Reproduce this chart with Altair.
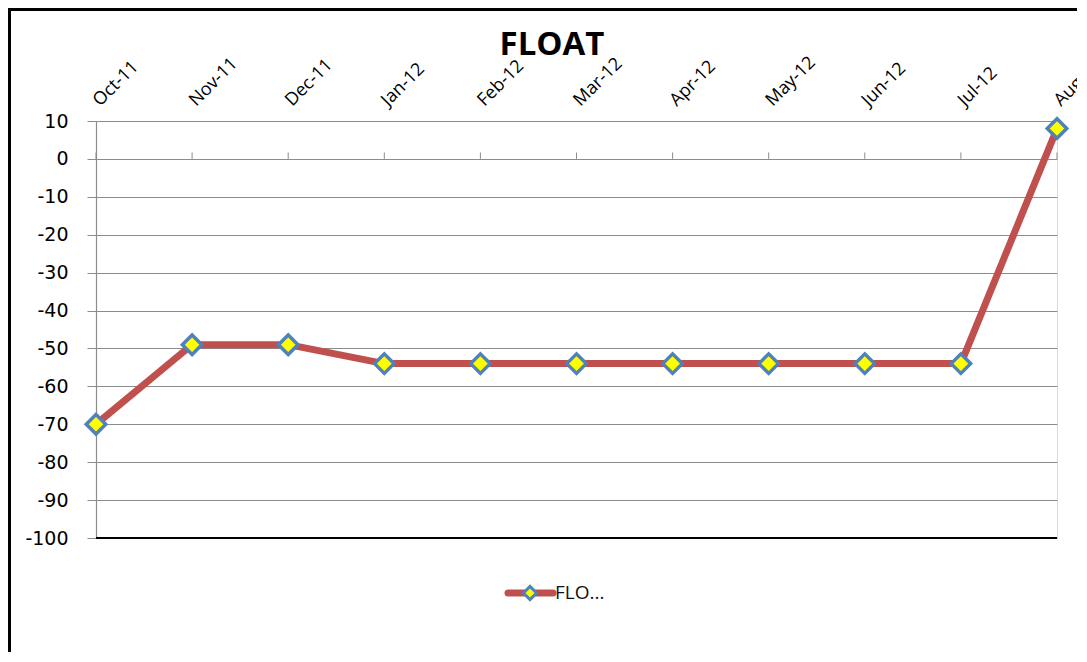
import altair as alt
import pandas as pd

months = ["Oct-11", "Nov-11", "Dec-11", "Jan-12", "Feb-12", "Mar-12",
          "Apr-12", "May-12", "Jun-12", "Jul-12", "Aug-12"]
values = [-70, -49, -49, -54, -54, -54, -54, -54, -54, -54, 8]
y_ticks = list(range(-100, 11, 10))
series_name = "FLOAT"
legend_label = "FLO..."

df = pd.DataFrame({"month": months, "value": values})

LINE = "#C0504D"
MARK_FILL = "#FFFF00"
MARK_STROKE = "#4F81BD"
GRID = "#8C8C8C"

y_scale = alt.Scale(domain=[-100, 10], nice=False, zero=False)
x_scale = alt.Scale(type="point", padding=0)

x_axis = alt.Axis(orient="top", title=None, labelAngle=-45, labelAlign="left",
                  labelBaseline="middle", labelPadding=18, ticks=False, tickSize=0,
                  domain=False, grid=False, labelFont="Open Sans", labelFontSize=18,
                  labelColor="#000000", labelOverlap=False, labelBound=False)
y_axis = alt.Axis(title=None, values=y_ticks, grid=True, gridColor=GRID,
                  gridOpacity=1, gridWidth=1, domain=True, domainColor=GRID,
                  domainWidth=1.2, ticks=True, tickSize=9, tickColor=GRID, tickWidth=1,
                  labelFont="DejaVu Sans", labelFontSize=19, labelColor="#000000",
                  labelPadding=19, labelOverlap=False,
                  labelExpr="'' + datum.value")

x_enc = alt.X("month:N", sort=months, scale=x_scale, axis=x_axis)
y_enc = alt.Y("value:Q", scale=y_scale, axis=y_axis)

base = alt.Chart(df)

line = base.mark_line(color=LINE, strokeWidth=7, strokeCap="round",
                      strokeJoin="round").encode(x=x_enc, y=y_enc)
pts = base.mark_point(shape="diamond", size=380, filled=True, fill=MARK_FILL,
                      stroke=MARK_STROKE, strokeWidth=3.5, opacity=1).encode(
    x=x_enc, y=y_enc)

zero_ticks = base.mark_rule(color=GRID, strokeWidth=1).encode(
    x=x_enc, y=alt.Y(datum=0, scale=y_scale, axis=y_axis), y2=alt.datum(1.7))

bottom_rule = base.mark_rule(color="#000000", strokeWidth=1.5).encode(
    y=alt.Y(datum=-100, scale=y_scale, axis=y_axis))

# outer frame
frame_df = pd.DataFrame({"k": [0]})
frame_left = alt.Chart(frame_df).mark_rule(color="#000000", strokeWidth=3).encode(
    x=alt.value(-86.5), y=alt.value(-111.5), y2=alt.value(560))
frame_top = alt.Chart(frame_df).mark_rule(color="#000000", strokeWidth=3).encode(
    x=alt.value(-88), x2=alt.value(1000), y=alt.value(-111.5))

# title
title = alt.Chart(frame_df).mark_text(text=series_name, font="Open Sans",
                                      fontWeight="bold", fontSize=33,
                                      color="#000000", align="center",
                                      baseline="middle").encode(
    x=alt.value(456), y=alt.value(-76))

# legend
leg_line = alt.Chart(frame_df).mark_rule(color=LINE, strokeWidth=7,
                                         strokeCap="round").encode(
    x=alt.value(412), x2=alt.value(457), y=alt.value(472))
leg_pt = alt.Chart(frame_df).mark_point(shape="diamond", size=170, filled=True,
                                        fill=MARK_FILL, stroke=MARK_STROKE,
                                        strokeWidth=3, opacity=1).encode(
    x=alt.value(434), y=alt.value(472))
leg_text = alt.Chart(frame_df).mark_text(text=legend_label, font="Open Sans",
                                         fontSize=19, color="#111111",
                                         align="left", baseline="middle").encode(
    x=alt.value(459), y=alt.value(472))

chart = alt.layer(
    line, bottom_rule, zero_ticks, pts, frame_left, frame_top, title,
    leg_line, leg_pt, leg_text
).properties(
    width=961, height=417,
    autosize=alt.AutoSizeParams(type="none"),
    padding={"left": 88, "top": 113, "right": 20, "bottom": 114},
).configure_view(stroke="#6E6E6E", strokeWidth=1.5).configure(background="white")

chart.save("out.html", embed_options={"renderer": "svg", "actions": False})
